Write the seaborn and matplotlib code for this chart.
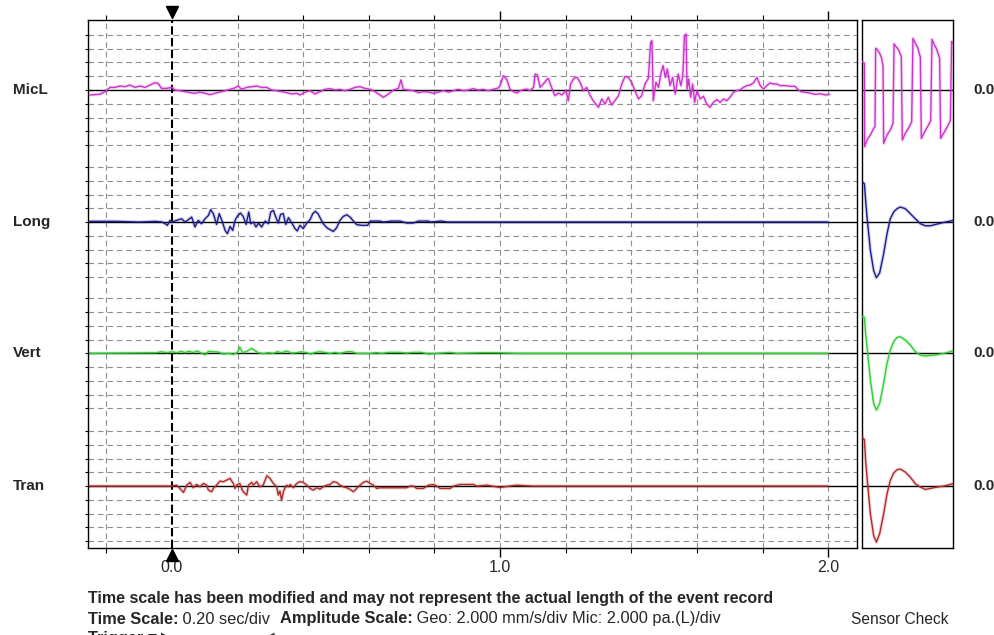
import numpy as np
import matplotlib
matplotlib.use("Agg")
import matplotlib.pyplot as plt
import seaborn as sns

# каналы и цвета
channels = ["MicL", "Long", "Vert", "Tran"]
trace_colors = ["#cc33cc", "#1c1c8c", "#33cc33", "#b02a2a"]

# запись события: время, с; амплитуда в делениях шкалы
# (Geo: 2.000 mm/s/div, Mic: 2.000 pa.(L)/div)
micl_t = [-0.250, -0.220, -0.204, -0.189, -0.174, -0.159, -0.143, -0.128, -0.113, -0.098,
          -0.082, -0.067, -0.052, -0.042, -0.032, -0.016, -0.001, 0.009, 0.024, 0.040,
          0.055, 0.070, 0.085, 0.101, 0.116, 0.131, 0.146, 0.162, 0.177, 0.192,
          0.202, 0.212, 0.228, 0.243, 0.258, 0.273, 0.289, 0.304, 0.319, 0.334,
          0.350, 0.365, 0.380, 0.390, 0.405, 0.421, 0.436, 0.451, 0.466, 0.482,
          0.497, 0.512, 0.527, 0.543, 0.558, 0.573, 0.588, 0.604, 0.619, 0.634,
          0.644, 0.660, 0.675, 0.690, 0.698, 0.705, 0.721, 0.736, 0.751, 0.766,
          0.782, 0.797, 0.812, 0.827, 0.843, 0.858, 0.873, 0.888, 0.903, 0.918,
          0.934, 0.949, 0.964, 0.980, 0.995,
          1.000, 1.010, 1.020, 1.030, 1.041, 1.051, 1.061, 1.071, 1.081, 1.091,
          1.102, 1.107, 1.114, 1.122, 1.132, 1.142, 1.147, 1.157, 1.167, 1.178,
          1.188, 1.201, 1.208, 1.215, 1.225, 1.235, 1.244, 1.254, 1.264, 1.274,
          1.284, 1.300, 1.310, 1.320, 1.330, 1.340, 1.350, 1.361, 1.371, 1.381,
          1.391, 1.401, 1.411, 1.422, 1.432, 1.442, 1.452, 1.459, 1.463, 1.467,
          1.475, 1.483, 1.491, 1.497, 1.504, 1.510, 1.518, 1.526, 1.534, 1.543,
          1.551, 1.557, 1.562, 1.567, 1.570, 1.575, 1.581, 1.587, 1.593, 1.600,
          1.610, 1.620, 1.630, 1.640, 1.650, 1.661, 1.671, 1.681, 1.691, 1.701,
          1.711, 1.721, 1.732, 1.742, 1.752, 1.762, 1.772, 1.783, 1.793, 1.803,
          1.813, 1.823, 1.833, 1.843, 1.854, 1.869, 1.884, 1.899, 1.909, 1.917,
          1.930, 1.945, 1.960, 1.976, 1.991, 2.004]
micl_v = [-0.36, -0.31, -0.12, 0.19, 0.19, 0.29, 0.24, 0.36, 0.19, 0.29,
          0.19, 0.36, 0.53, 0.48, 0.12, 0.12, 0.19, 0.00, -0.05, -0.12,
          -0.19, -0.24, -0.15, -0.24, -0.34, -0.24, -0.15, -0.05, 0.05, 0.15,
          0.29, 0.05, 0.19, 0.24, 0.29, 0.19, 0.19, 0.00, -0.05, -0.12,
          -0.19, -0.29, -0.24, -0.36, -0.17, -0.05, -0.29, -0.12, 0.05, 0.10,
          0.00, 0.05, -0.05, 0.05, 0.19, 0.24, 0.12, 0.05, -0.12, -0.36,
          -0.53, -0.29, 0.00, 0.12, 0.73, 0.05, 0.00, -0.05, -0.19, -0.12,
          -0.15, -0.24, -0.15, -0.05, -0.15, -0.05, 0.05, -0.05, 0.00, 0.10,
          0.00, 0.05, -0.05, 0.05, 0.15,
          0.32, 1.04, 0.80, 0.07, -0.12, -0.22, -0.05, 0.02, 0.07, -0.05,
          0.19, 1.16, 1.09, 0.19, 0.44, 0.75, 0.85, 0.19, -0.41, -0.22,
          -0.36, -0.05, -0.78, 0.44, 0.85, 0.92, 0.56, -0.05, 0.19, -0.36,
          -0.78, -1.26, -0.65, -1.02, -0.53, -1.09, -0.78, -0.41, 0.44, 0.99,
          0.92, 0.56, -0.05, -0.65, -0.41, 0.44, 0.85, 3.47, 3.59, -0.78,
          0.56, 0.19, 1.28, 1.77, 0.92, 1.53, 0.32, 0.92, -0.29, 1.16,
          0.32, 1.04, 3.95, 4.07, 0.07, 0.80, -0.53, 0.44, -0.90, -0.05,
          -0.65, -0.46, -1.02, -1.26, -0.90, -0.70, -0.90, -0.65, -0.78, -0.53,
          -0.17, -0.05, 0.02, 0.19, 0.32, 0.36, 0.51, 0.92, 0.32, 0.07,
          0.32, 0.51, 0.44, 0.44, 0.32, 0.32, 0.27, 0.27, 0.02, -0.12,
          -0.17, -0.22, -0.32, -0.27, -0.36, -0.32]

long_t = [-0.250, -0.170, -0.100, -0.050, -0.030, -0.021, -0.014, -0.006, 0.000, 0.014,
          0.029, 0.040, 0.050, 0.060, 0.070, 0.080, 0.090, 0.101, 0.111, 0.118,
          0.126, 0.136, 0.144, 0.152, 0.162, 0.169, 0.177, 0.185, 0.193, 0.201,
          0.209, 0.217, 0.226, 0.234, 0.240, 0.248, 0.256, 0.264, 0.273, 0.284,
          0.294, 0.301, 0.309, 0.317, 0.324, 0.331, 0.339, 0.347, 0.355, 0.365,
          0.375, 0.382, 0.390, 0.400, 0.411, 0.421, 0.429, 0.437, 0.445, 0.453,
          0.461, 0.472, 0.482, 0.492, 0.502, 0.512, 0.522, 0.533, 0.543, 0.553,
          0.563, 0.578, 0.596, 0.604, 0.634, 0.644, 0.670, 0.695, 0.705, 0.715,
          0.736, 0.751, 0.782, 0.787, 0.820, 0.840, 2.000]
long_v = [0.05, 0.05, 0.00, 0.05, 0.00, -0.12, -0.24, 0.12, 0.00, 0.12,
          0.24, 0.00, 0.17, 0.36, -0.36, 0.12, -0.12, 0.24, 0.48, 0.90,
          0.61, -0.17, 0.61, 0.12, -0.61, -0.85, -0.32, -0.61, 0.17, 0.48,
          0.65, 0.41, -0.17, 0.73, -0.12, 0.00, -0.36, -0.07, -0.36, 0.07,
          -0.12, 0.73, 0.85, 0.32, -0.07, 0.56, 0.61, -0.17, 0.32, -0.07,
          -0.48, -0.65, -0.24, -0.48, -0.07, 0.17, 0.61, 0.78, 0.61, 0.24,
          -0.12, -0.41, -0.56, -0.68, -0.41, 0.12, 0.41, 0.53, 0.36, 0.07,
          -0.19, -0.24, -0.24, 0.07, 0.07, 0.00, 0.07, 0.07, 0.00, -0.07,
          -0.07, 0.07, 0.07, 0.00, 0.07, 0.00, 0.00]

vert_t = [-0.250, -0.047, -0.032, -0.016, 0.000, 0.014, 0.029, 0.040, 0.050, 0.065,
          0.077, 0.090, 0.101, 0.111, 0.126, 0.141, 0.157, 0.172, 0.187, 0.199,
          0.207, 0.215, 0.228, 0.243, 0.253, 0.263, 0.278, 0.294, 0.309, 0.321,
          0.334, 0.350, 0.365, 0.380, 0.395, 0.411, 0.423, 0.436, 0.451, 0.466,
          0.482, 0.497, 0.512, 0.533, 0.548, 0.563, 0.604, 0.624, 0.639, 0.660,
          0.695, 0.715, 0.736, 0.761, 0.782, 0.807, 0.848, 0.868, 0.950, 0.990,
          1.050, 2.000]
vert_v = [0.00, 0.05, 0.12, 0.05, 0.12, 0.05, 0.15, 0.05, 0.15, 0.07,
          0.17, 0.02, -0.10, 0.15, 0.12, 0.10, -0.05, 0.00, -0.07, 0.05,
          0.44, 0.05, 0.15, 0.36, 0.20, 0.05, -0.02, 0.05, 0.00, 0.12,
          0.05, 0.17, 0.02, 0.05, 0.12, 0.05, -0.05, 0.07, 0.12, 0.07,
          0.00, 0.07, 0.00, 0.12, 0.12, 0.00, 0.00, 0.05, 0.00, 0.07,
          0.07, 0.02, 0.07, 0.07, -0.05, 0.00, 0.07, 0.00, 0.05, 0.05,
          0.00, 0.00]

tran_t = [-0.250, 0.000, 0.014, 0.024, 0.035, 0.045, 0.055, 0.065, 0.075, 0.085,
          0.096, 0.106, 0.111, 0.121, 0.126, 0.136, 0.146, 0.157, 0.167, 0.177,
          0.187, 0.192, 0.197, 0.207, 0.212, 0.217, 0.228, 0.233, 0.243, 0.248,
          0.258, 0.268, 0.278, 0.289, 0.299, 0.309, 0.319, 0.324, 0.329, 0.334,
          0.341, 0.350, 0.355, 0.360, 0.370, 0.380, 0.390, 0.400, 0.411, 0.421,
          0.431, 0.441, 0.451, 0.461, 0.472, 0.482, 0.492, 0.502, 0.512, 0.522,
          0.533, 0.543, 0.553, 0.563, 0.573, 0.583, 0.593, 0.604, 0.614, 0.624,
          0.634, 0.715, 0.726, 0.736, 0.746, 0.766, 0.782, 0.797, 0.807, 0.817,
          0.848, 0.858, 0.878, 0.919, 0.929, 0.960, 1.000, 1.050, 1.100, 2.000]
tran_v = [0.00, 0.00, 0.07, -0.17, -0.46, 0.07, 0.27, -0.12, 0.12, -0.05,
          0.19, 0.07, -0.29, -0.41, -0.17, 0.07, 0.36, 0.32, 0.44, 0.56,
          0.19, -0.17, 0.07, 0.19, -0.17, -0.41, -0.65, 0.07, 0.27, 0.07,
          0.32, -0.05, 0.07, 0.75, 0.56, 0.19, -0.05, -0.65, -0.36, -1.02,
          -0.29, 0.07, -0.05, 0.12, -0.12, 0.19, 0.32, 0.27, 0.07, -0.17,
          -0.29, -0.12, -0.22, -0.05, 0.07, 0.12, 0.32, 0.27, 0.07, -0.05,
          -0.12, -0.24, -0.41, -0.17, 0.07, 0.27, 0.36, 0.19, 0.07, -0.17,
          -0.12, -0.12, 0.00, 0.00, -0.17, -0.17, 0.07, 0.12, 0.00, -0.17,
          -0.17, 0.00, 0.12, 0.12, 0.00, 0.07, -0.10, 0.07, 0.00, 0.00]

# проверка датчиков (Sensor Check), время в долях окна
micl_check_t = [0.004, 0.026, 0.029, 0.055, 0.092, 0.128, 0.143, 0.150, 0.165, 0.194,
                0.216, 0.231, 0.238, 0.275, 0.311, 0.341, 0.352, 0.374, 0.403, 0.432,
                0.443, 0.480, 0.516, 0.546, 0.560, 0.582, 0.612, 0.641, 0.652, 0.689,
                0.725, 0.755, 0.769, 0.791, 0.821, 0.853, 0.864, 0.901, 0.938, 0.971,
                0.985, 0.996]
micl_check = [2.06, 1.94, -4.12, -3.64, -3.27, -2.79, -2.67, 3.03, 2.96, 2.67,
              2.30, 1.70, -3.88, -3.27, -2.91, -2.42, 3.35, 3.15, 2.91, 2.42,
              -3.64, -3.10, -2.72, -2.30, 3.76, 3.44, 3.10, 2.38, -3.52, -3.03,
              -2.62, -2.23, 3.68, 3.35, 2.96, 2.30, -3.52, -3.10, -2.67, -2.23,
              3.52, 3.39]
geo_check_t = [0.004, 0.026, 0.040, 0.055, 0.092, 0.128, 0.158, 0.194, 0.238, 0.275,
               0.311, 0.348, 0.385, 0.421, 0.476, 0.531, 0.586, 0.641, 0.696, 0.751,
               0.824, 0.897, 0.971, 0.996]
long_check = [2.91, 2.79, 1.58, 0.36, -2.06, -3.52, -4.05, -3.70, -2.30, -0.85,
              0.24, 0.73, 0.97, 1.09, 0.97, 0.61, 0.24, -0.12, -0.27, -0.27,
              -0.15, -0.03, 0.07, 0.12]
vert_check = [2.67, 2.62, 1.45, 0.48, -1.94, -3.64, -4.12, -3.64, -2.18, -0.73,
              0.24, 0.85, 1.16, 1.21, 0.97, 0.61, 0.12, -0.12, -0.19, -0.15,
              -0.10, 0.00, 0.12, 0.19]
tran_check = [3.56, 3.37, 1.87, 0.65, -2.01, -3.59, -4.07, -3.47, -2.01, -0.56,
              0.41, 0.95, 1.19, 1.24, 1.02, 0.65, 0.17, -0.07, -0.24, -0.17,
              -0.07, 0.00, 0.12, 0.17]

# подписи шкал
x_labels = ["0.0", "1.0", "2.0"]
note_text = "Time scale has been modified and may not represent the actual length of the event record"

# раскладка каналов по вертикали (в делениях)
offsets = [0.0, -9.6, -19.15, -28.8]
W, H = 995, 635

sns.set_style("white")
plt.rcParams["font.family"] = ["Liberation Sans", "DejaVu Sans"]

fig = plt.figure(figsize=(W / 100, H / 100), dpi=100)
ax = fig.add_axes([88 / W, 87 / H, 769 / W, 528 / H])
sax = fig.add_axes([862 / W, 87 / H, 91 / W, 528 / H])

ylim = (-33.3, 5.09)
ax.set_xlim(-0.256, 2.088)
ax.set_ylim(*ylim)
sax.set_xlim(0, 1)
sax.set_ylim(*ylim)

# сетка: 0.20 сек/дел по времени, 4 деления вверх и вниз у каждого канала
grid_color = "#8f8f8f"
grid_t = [round(0.2 * k, 1) for k in range(-1, 11) if k != 0]
for t in grid_t:
    ax.axvline(t, color=grid_color, linewidth=0.8, linestyle=(0, (5, 3.5)), zorder=1)
ytick_pos = []
for off in offsets:
    for k in (-4, -3, -2, -1, 1, 2, 3, 4):
        ax.axhline(off + k, color=grid_color, linewidth=0.8, linestyle=(0, (5, 3.5)), zorder=1)
        ytick_pos.append(off + k)
    ytick_pos.append(off)
    ax.axhline(off, color="black", linewidth=1.0, zorder=2)
    sax.axhline(off, color="black", linewidth=1.0, zorder=2)

# линия триггера
ax.axvline(0.0, color="black", linewidth=1.5, linestyle=(0, (4, 1.6)), zorder=3)
ax.plot([0.0], [1.016], marker="v", color="black", markersize=9,
        transform=ax.get_xaxis_transform(), clip_on=False)
ax.plot([0.0], [-0.013], marker="^", color="black", markersize=9,
        transform=ax.get_xaxis_transform(), clip_on=False)

# сами записи
traces = [(micl_t, micl_v), (long_t, long_v), (vert_t, vert_v), (tran_t, tran_v)]
for (t, v), off, c in zip(traces, offsets, trace_colors):
    y = np.array(v) + off
    sns.lineplot(x=t, y=y, ax=ax, color=c, linewidth=2.6, alpha=0.18,
                 estimator=None, sort=False, zorder=4)
    sns.lineplot(x=t, y=y, ax=ax, color=c, linewidth=1.0,
                 estimator=None, sort=False, zorder=5)

checks = [(micl_check_t, micl_check), (geo_check_t, long_check),
          (geo_check_t, vert_check), (geo_check_t, tran_check)]
for (t, v), off, c in zip(checks, offsets, trace_colors):
    y = np.array(v) + off
    sns.lineplot(x=t, y=y, ax=sax, color=c, linewidth=2.6, alpha=0.18,
                 estimator=None, sort=False, zorder=4)
    sns.lineplot(x=t, y=y, ax=sax, color=c, linewidth=1.0,
                 estimator=None, sort=False, zorder=5)

# оси и засечки
ax.set_xlabel("")
ax.set_ylabel("")
sax.set_xlabel("")
sax.set_ylabel("")
ax.set_xticks([0.0, 1.0, 2.0])
ax.set_xticklabels(x_labels)
ax.set_xticks([t for t in grid_t if t not in (1.0, 2.0)], minor=True)
ax.tick_params(axis="x", which="major", direction="out", length=6.5, width=1.0,
               top=True, bottom=True, labelsize=11.5, pad=2.0, color="black")
ax.tick_params(axis="x", which="minor", direction="out", length=3.6, width=0.8,
               top=True, bottom=True, color="black")
ax.xaxis.get_major_ticks()[0].tick1line.set_visible(False)
ax.xaxis.get_major_ticks()[0].tick2line.set_visible(False)
ax.set_yticks(ytick_pos)
ax.set_yticklabels([])
ax.tick_params(axis="y", direction="inout", length=4, width=0.8, left=True,
               right=False, color="black")
sax.set_xticks([])
sax.set_yticks([])
for a in (ax, sax):
    for sp in a.spines.values():
        sp.set_visible(True)
        sp.set_color("black")
        sp.set_linewidth(1.0)

# названия каналов слева и нули справа
for name, off in zip(channels, offsets):
    ax.annotate(name, xy=(13 / W, off), xycoords=("figure fraction", "data"),
                ha="left", va="center", fontsize=11, fontweight="bold",
                annotation_clip=False)
    sax.annotate("0.0", xy=(973 / W, off), xycoords=("figure fraction", "data"),
                 ha="left", va="center", fontsize=11, fontweight="bold",
                 annotation_clip=False)

# подписи внизу
fs = 11.8
fig.text(88 / W, 1 - 598 / H, note_text, fontsize=11.5, fontweight="bold", va="center")
t1 = fig.text(88 / W, 1 - 619 / H, "Time Scale:", fontsize=fs, fontweight="bold", va="center")
t2 = ax.annotate(" 0.20 sec/div  ", xy=(1, 0), xycoords=t1, ha="left", va="bottom",
                 fontsize=fs, annotation_clip=False)
t3 = ax.annotate("Amplitude Scale:", xy=(1, 0), xycoords=t2, ha="left", va="bottom",
                 fontsize=fs, fontweight="bold", annotation_clip=False)
ax.annotate(" Geo: 2.000 mm/s/div Mic: 2.000 pa.(L)/div", xy=(1, 0), xycoords=t3,
            ha="left", va="bottom", fontsize=fs, annotation_clip=False)
fig.text(851 / W, 1 - 619 / H, "Sensor Check", fontsize=11.2, va="center")
fig.text(88 / W, 1 - 643 / H, "Trigger =", fontsize=fs, fontweight="bold", va="baseline")
fig.text(167 / W, 1 - 643 / H, "\u25b6", fontsize=fs, va="baseline", ha="center")
fig.text(268 / W, 1 - 643 / H, "\u25c0", fontsize=fs, va="baseline", ha="center")

fig.savefig("out.png", dpi=100)
